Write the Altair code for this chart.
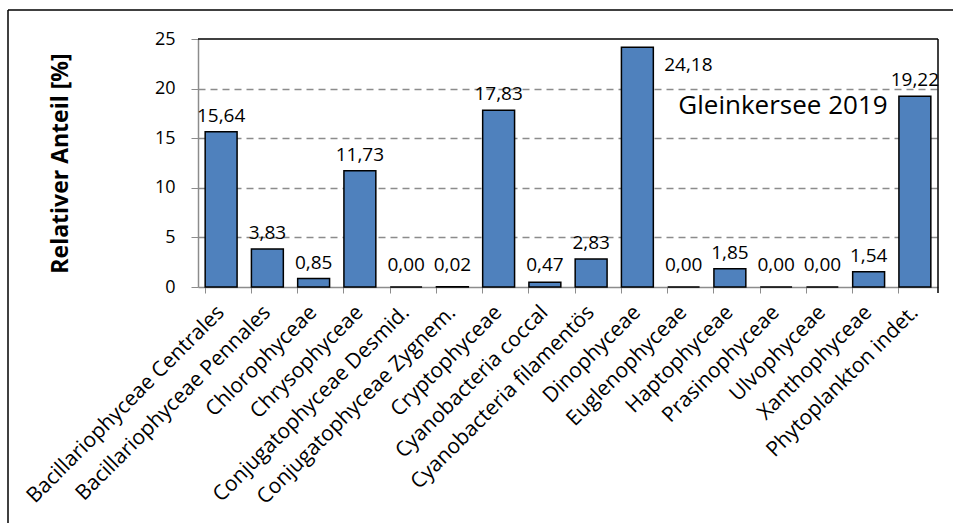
import altair as alt
import pandas as pd

categories = [
    "Bacillariophyceae Centrales", "Bacillariophyceae Pennales", "Chlorophyceae",
    "Chrysophyceae", "Conjugatophyceae Desmid.", "Conjugatophyceae Zygnem.",
    "Cryptophyceae", "Cyanobacteria coccal", "Cyanobacteria filamentös",
    "Dinophyceae", "Euglenophyceae", "Haptophyceae", "Prasinophyceae",
    "Ulvophyceae", "Xanthophyceae", "Phytoplankton indet.",
]
values = [15.64, 3.83, 0.85, 11.73, 0.00, 0.02, 17.83, 0.47, 2.83,
          24.18, 0.00, 1.85, 0.00, 0.00, 1.54, 19.22]
y_ticks = [0, 5, 10, 15, 20, 25]
annotation = "Gleinkersee 2019"
y_title = "Relativer Anteil [%]"

df = pd.DataFrame({"cat": categories, "v": values})

FONT = "Open Sans"
W, H = 740, 248
PAD_L, PAD_T = 198, 39

base = alt.Chart(df).transform_calculate(
    lbl="replace(format(datum.v, '.2f'), '.', ',')",
    ly="max(datum.v, 0.6)",
)

x_enc = alt.X(
    "cat:N", sort=None, title=None,
    scale=alt.Scale(paddingInner=0.31, paddingOuter=0.155),
    axis=alt.Axis(
        labelAngle=-45, labelAlign="right", labelBaseline="middle",
        labelFont=FONT, labelFontSize=21, labelColor="#000",
        labelPadding=16, tickSize=6, tickColor="#8c8c8c", bandPosition=0,
        domainColor="#8c8c8c", domainWidth=1.5, labelLimit=400, grid=False,
    ),
)

y_scale = alt.Scale(domain=[0, 25], nice=False)

bars = base.mark_bar(color="#4F81BD", stroke="#000", strokeWidth=1.5).encode(
    x=x_enc,
    y=alt.Y(
        "v:Q", scale=y_scale, title=y_title,
        axis=alt.Axis(
            values=y_ticks, labelFont=FONT, labelFontSize=18, labelColor="#000",
            labelPadding=16, tickSize=7, tickColor="#8c8c8c",
            domainColor="#8c8c8c", domainWidth=1.5,
            grid=True,
            gridColor={"condition": {"test": "datum.value == 25 || datum.value == 0",
                                     "value": "transparent"}, "value": "#8c8c8c"},
            gridDash=[7, 5], gridWidth=1.5,
            titleFont=FONT, titleFontSize=23, titleFontWeight="bold",
            titleColor="#000", titleX=-138, titleY=124, titleAngle=-90,
            titleAlign="center", titleBaseline="middle",
        ),
    ),
)

labels = base.transform_filter("datum.cat != 'Dinophyceae'").mark_text(
    font=FONT, fontSize=19, color="#000", baseline="alphabetic", dy=-10
).encode(x=alt.X("cat:N", sort=categories), y=alt.Y("ly:Q", scale=y_scale), text="lbl:N")

label_max = base.transform_filter("datum.cat == 'Dinophyceae'").mark_text(
    font=FONT, fontSize=19, color="#000", baseline="alphabetic", dx=51, dy=24
).encode(x=alt.X("cat:N", sort=categories), y=alt.Y("v:Q", scale=y_scale), text="lbl:N")

note = alt.Chart(pd.DataFrame({"t": [annotation]})).mark_text(
    font=FONT, fontSize=26, color="#000", baseline="alphabetic", align="center"
).encode(x=alt.value(585), y=alt.value(75), text="t:N")

frame_top = alt.Chart(pd.DataFrame({"a": [0]})).mark_rule(color="#000", strokeWidth=1.5).encode(
    x=alt.value(0), x2=alt.value(W), y=alt.value(0))
frame_right = alt.Chart(pd.DataFrame({"a": [0]})).mark_rule(color="#000", strokeWidth=1.5).encode(
    x=alt.value(W), y=alt.value(0), y2=alt.value(H + 6))
border_top = alt.Chart(pd.DataFrame({"a": [0]})).mark_rule(color="#000", strokeWidth=1.5).encode(
    x=alt.value(8 - PAD_L), x2=alt.value(953 - PAD_L), y=alt.value(10 - PAD_T))
border_left = alt.Chart(pd.DataFrame({"a": [0]})).mark_rule(color="#000", strokeWidth=1.5).encode(
    x=alt.value(8 - PAD_L), y=alt.value(10 - PAD_T), y2=alt.value(523 - PAD_T))

chart = alt.layer(bars, labels, label_max, note, frame_top, frame_right, border_top, border_left).properties(
    width=W, height=H,
    autosize=alt.AutoSizeParams(type="none"),
    padding={"left": PAD_L, "top": PAD_T, "right": 953 - PAD_L - W, "bottom": 523 - PAD_T - H},
    background="white",
).configure_view(stroke=None)

chart.save("out.html", embed_options={"renderer": "svg", "actions": False})
